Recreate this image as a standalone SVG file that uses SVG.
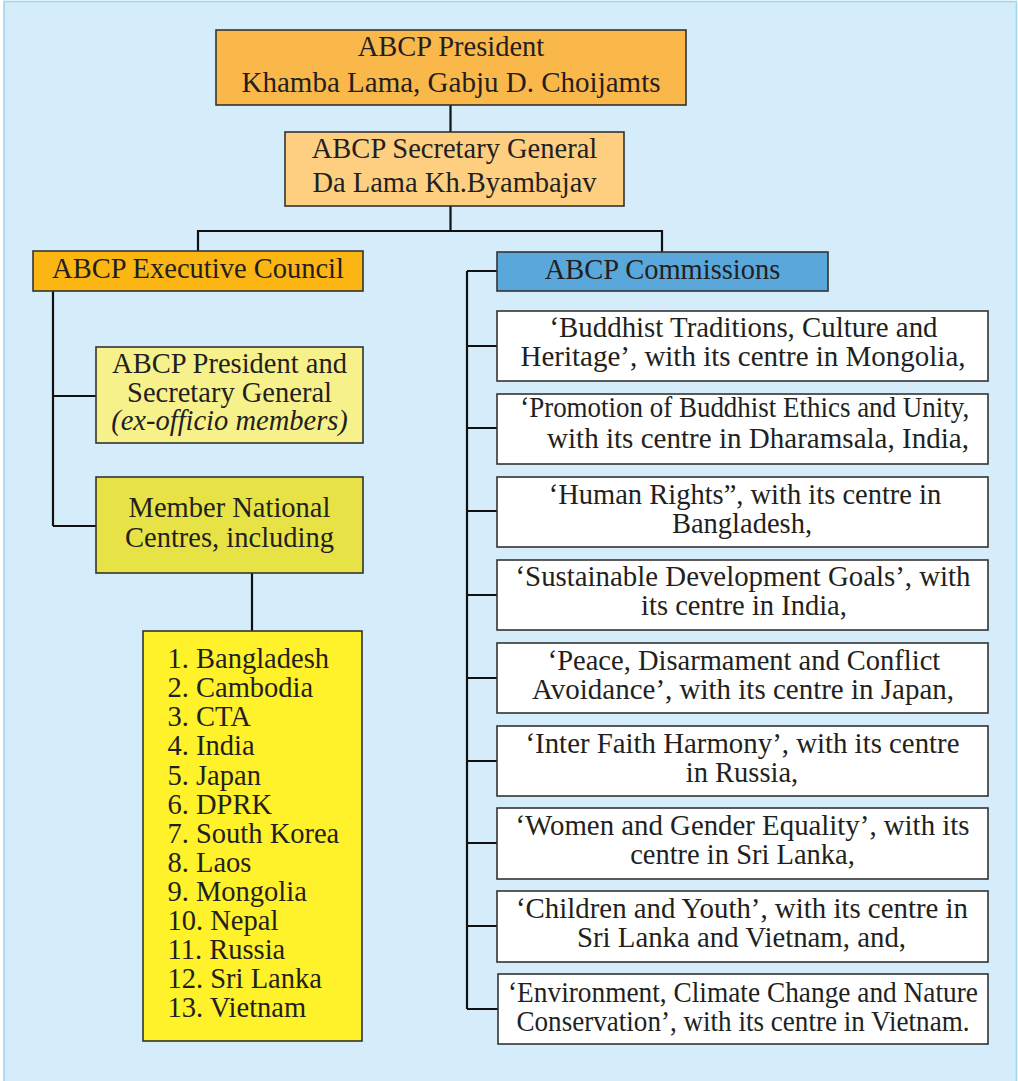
<svg xmlns="http://www.w3.org/2000/svg" width="1018" height="1081" viewBox="0 0 1018 1081">
<style>
text{font-family:"Liberation Serif","Times New Roman",serif;font-size:28.5px;fill:#231f20}
.c{text-anchor:middle}
.box{stroke:#333;stroke-width:1.6}
.ln{stroke:#111;stroke-width:2.2;fill:none}
</style>
<rect x="4" y="1.5" width="1012.5" height="1090" fill="#d5ecfa" stroke="#9fd8ef" stroke-width="1.6"/>
<g id="connectors">
<path class="ln" d="M450.5 105V132M450.5 206V231M198 251V231H662V252"/>
<path class="ln" d="M53 291V526M53 396H96M53 526H96M252 573V631"/>
<path class="ln" d="M467 271V1009M467 271H497M467 346H497M467 428H497M467 511H497M467 595H497M467 678H497M467 761H497M467 843H497M467 926H497M467 1009H498"/>
</g>
<g id="president">
<rect class="box" x="216" y="30" width="470" height="75" fill="#fbb84a"/>
<text class="c" x="451" y="56">ABCP President</text>
<text class="c" x="451" y="91.5" textLength="419" lengthAdjust="spacingAndGlyphs">Khamba Lama, Gabju D. Choijamts</text>
</g>
<g id="secretary">
<rect class="box" x="285" y="132" width="339" height="74" fill="#fecf80"/>
<text class="c" x="454.5" y="157.5">ABCP Secretary General</text>
<text class="c" x="454.5" y="192">Da Lama Kh.Byambajav</text>
</g>
<g id="executive">
<rect class="box" x="33" y="251" width="330" height="40" fill="#fbb614"/>
<text class="c" x="198" y="277.5">ABCP Executive Council</text>
</g>
<g id="commissions">
<rect class="box" x="497" y="252" width="331" height="39" fill="#5aa7dc"/>
<text class="c" x="662.5" y="279">ABCP Commissions</text>
</g>
<g id="pres-sg">
<rect class="box" x="96" y="347" width="267" height="96" fill="#f7f18c"/>
<text class="c" x="229.5" y="372.5">ABCP President and</text>
<text class="c" x="229.5" y="401.5">Secretary General</text>
<text class="c" x="229.5" y="430" font-style="italic">(ex-officio members)</text>
</g>
<g id="member-centres">
<rect class="box" x="96" y="477" width="267" height="96" fill="#e7e346"/>
<text class="c" x="229.5" y="516.5">Member National</text>
<text class="c" x="229.5" y="546.5">Centres, including</text>
</g>
<g id="member-list">
<rect class="box" x="143" y="631" width="219" height="410" fill="#fff12a"/>
<text x="167.5" y="668">1. Bangladesh</text>
<text x="167.5" y="697">2. Cambodia</text>
<text x="167.5" y="726">3. CTA</text>
<text x="167.5" y="755">4. India</text>
<text x="167.5" y="784.5">5. Japan</text>
<text x="167.5" y="813.5">6. DPRK</text>
<text x="167.5" y="842.5">7. South Korea</text>
<text x="167.5" y="871.5">8. Laos</text>
<text x="167.5" y="900.5">9. Mongolia</text>
<text x="167.5" y="929.5">10. Nepal</text>
<text x="167.5" y="958.5">11. Russia</text>
<text x="167.5" y="987.5">12. Sri Lanka</text>
<text x="167.5" y="1016.5">13. Vietnam</text>
</g>
<g id="comm1">
<rect class="box" x="497" y="311" width="491" height="70" fill="#fff"/>
<text class="c" x="743.5" y="337" textLength="388" lengthAdjust="spacingAndGlyphs">‘Buddhist Traditions, Culture and</text>
<text class="c" x="743" y="366" textLength="445" lengthAdjust="spacingAndGlyphs">Heritage’, with its centre in Mongolia,</text>
</g>
<g id="comm2">
<rect class="box" x="497" y="394" width="491" height="70" fill="#fff"/>
<text class="c" x="744.7" y="416.5" textLength="449" lengthAdjust="spacingAndGlyphs">‘Promotion of Buddhist Ethics and Unity,</text>
<text class="c" x="758" y="448" textLength="422" lengthAdjust="spacingAndGlyphs">with its centre in Dharamsala, India,</text>
</g>
<g id="comm3">
<rect class="box" x="497" y="477" width="491" height="70" fill="#fff"/>
<text class="c" x="745" y="503.5">‘Human Rights”, with its centre in</text>
<text class="c" x="742" y="533">Bangladesh,</text>
</g>
<g id="comm4">
<rect class="box" x="497" y="560" width="491" height="70" fill="#fff"/>
<text class="c" x="743" y="586" textLength="455" lengthAdjust="spacingAndGlyphs">‘Sustainable Development Goals’, with</text>
<text class="c" x="744" y="615">its centre in India,</text>
</g>
<g id="comm5">
<rect class="box" x="497" y="643" width="491" height="70" fill="#fff"/>
<text class="c" x="744" y="670">‘Peace, Disarmament and Conflict</text>
<text class="c" x="743" y="699" textLength="422" lengthAdjust="spacingAndGlyphs">Avoidance’, with its centre in Japan,</text>
</g>
<g id="comm6">
<rect class="box" x="497" y="726" width="491" height="70" fill="#fff"/>
<text class="c" x="742.5" y="753" textLength="434" lengthAdjust="spacingAndGlyphs">‘Inter Faith Harmony’, with its centre</text>
<text class="c" x="742" y="782">in Russia,</text>
</g>
<g id="comm7">
<rect class="box" x="497" y="808" width="491" height="71" fill="#fff"/>
<text class="c" x="742.5" y="835" textLength="454" lengthAdjust="spacingAndGlyphs">‘Women and Gender Equality’, with its</text>
<text class="c" x="742.5" y="864">centre in Sri Lanka,</text>
</g>
<g id="comm8">
<rect class="box" x="497" y="891" width="491" height="71" fill="#fff"/>
<text class="c" x="742" y="918" textLength="452" lengthAdjust="spacingAndGlyphs">‘Children and Youth’, with its centre in</text>
<text class="c" x="741.5" y="947" textLength="329" lengthAdjust="spacingAndGlyphs">Sri Lanka and Vietnam, and,</text>
</g>
<g id="comm9">
<rect class="box" x="498" y="974" width="490" height="70" fill="#fff"/>
<text class="c" x="743" y="1001.5" textLength="470" lengthAdjust="spacingAndGlyphs">‘Environment, Climate Change and Nature</text>
<text class="c" x="743" y="1030.5" textLength="453" lengthAdjust="spacingAndGlyphs">Conservation’, with its centre in Vietnam.</text>
</g>
</svg>
